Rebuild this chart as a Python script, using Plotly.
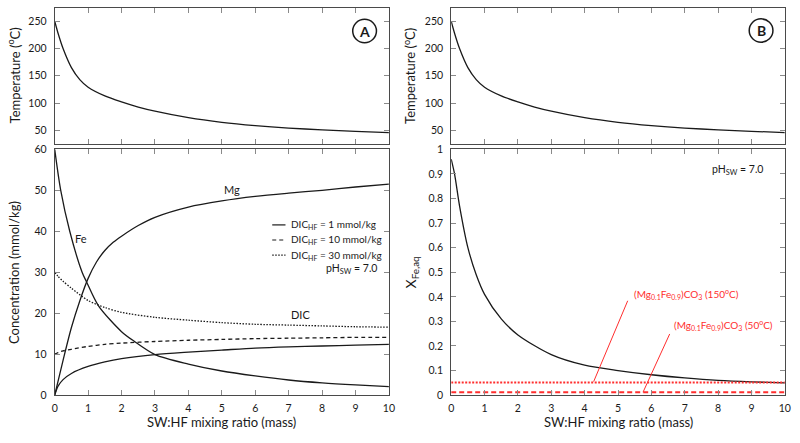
import plotly.graph_objects as go

# ---------------- data ----------------
ratio_T = [0, 0.1, 0.25, 0.5, 0.75, 1, 1.5, 2, 2.5, 3, 4, 5, 6, 7, 8, 9, 10]
temp_C = [250, 228, 200, 165, 143, 129, 113, 102, 92.5, 85, 73, 64.5, 58.5, 54, 50.8, 48, 45.8]

ratio_fe = [0, 0.18, 0.45, 0.82, 0.95, 1.31, 2, 2.37, 3, 4, 5, 6, 7, 8, 9, 10]
fe_conc = [60, 50, 40, 30, 27.7, 21.8, 15.5, 13.2, 9.9, 7.6, 5.9, 4.7, 3.7, 3.0, 2.5, 2.1]

ratio_mg = [0, 0.25, 0.5, 0.75, 1, 1.25, 1.5, 1.75, 2, 2.5, 3, 4, 5, 6, 7, 8, 9, 10]
mg_conc = [0, 8.5, 16.5, 23, 28.5, 32.5, 35.3, 37.3, 38.8, 41.4, 43.4, 45.9, 47.4, 48.5, 49.3, 50.0, 50.8, 51.5]

ratio_dic = [0, 0.1, 0.25, 0.5, 1, 1.5, 2, 3, 4, 5, 6, 7, 8, 9, 10]
dic_1 = [0, 2.2, 3.8, 5.3, 7.0, 8.1, 8.9, 9.9, 10.5, 11.0, 11.5, 11.8, 12.0, 12.2, 12.4]
dic_10 = [10.0, 10.4, 10.8, 11.2, 11.9, 12.4, 12.7, 13.1, 13.4, 13.6, 13.8, 13.9, 14.0, 14.1, 14.1]
dic_30 = [30.0, 29.0, 27.8, 26.1, 23.1, 21.4, 20.2, 19.0, 18.3, 17.7, 17.3, 17.1, 16.9, 16.7, 16.6]

ratio_x = [0, 0.1, 0.25, 0.5, 0.75, 1, 1.5, 2, 3, 4, 5, 6, 7, 8, 9, 10]
x_fe_aq = [0.96, 0.90, 0.77, 0.60, 0.49, 0.41, 0.31, 0.245, 0.165, 0.122, 0.100, 0.083, 0.070, 0.060, 0.054, 0.050]

sid_150 = 0.052
sid_50 = 0.012
x_range = [0, 10]

x_ticks = list(range(0, 11))
t_ticks = [50, 100, 150, 200, 250]
c_ticks = [0, 10, 20, 30, 40, 50, 60]
xfe_ticks = [0, 0.1, 0.2, 0.3, 0.4, 0.5, 0.6, 0.7, 0.8, 0.9, 1]
xfe_labels = ["0", "0.1", "0.2", "0.3", "0.4", "0.5", "0.6", "0.7", "0.8", "0.9", "1"]

legend_labels = ["DIC<sub>HF</sub> = 1 mmol/kg", "DIC<sub>HF</sub> = 10 mmol/kg", "DIC<sub>HF</sub> = 30 mmol/kg"]
dic_dashes = ["solid", "4px,3px", "1.5px,1.5px"]

# callouts (data coords): (head x, head y, tail x, tail y, text x, text y)
call_150 = (4.27, 0.055, 5.31, 0.39, 5.42, 0.413)
call_50 = (5.75, 0.012, 6.57, 0.255, 6.62, 0.285)

# ---------------- figure ----------------
FONT = "Lato"
BLACK = "#1a1a1a"
RED = "#ff2e2e"

fig = go.Figure()

def line_trace(x, y, xa, ya, dash="solid", color=BLACK, width=1.3):
    return go.Scatter(x=x, y=y, xaxis=xa, yaxis=ya, mode="lines",
                      line=dict(color=color, width=width, dash=dash, shape="spline", smoothing=0.8),
                      showlegend=False, hoverinfo="skip")

fig.add_trace(line_trace(ratio_T, temp_C, "x", "y"))
fig.add_trace(line_trace(ratio_T, temp_C, "x3", "y3"))

fig.add_trace(line_trace(ratio_fe, fe_conc, "x2", "y2"))
fig.add_trace(line_trace(ratio_mg, mg_conc, "x2", "y2"))
for series, dash in zip([dic_1, dic_10, dic_30], dic_dashes):
    fig.add_trace(line_trace(ratio_dic, series, "x2", "y2", dash))

fig.add_trace(line_trace(ratio_x, x_fe_aq, "x4", "y4"))
fig.add_trace(go.Scatter(x=x_range, y=[sid_150, sid_150], xaxis="x4", yaxis="y4", mode="lines",
                         line=dict(color=RED, width=2, dash="2px,1.5px"), showlegend=False, hoverinfo="skip"))
fig.add_trace(go.Scatter(x=x_range, y=[sid_50, sid_50], xaxis="x4", yaxis="y4", mode="lines",
                         line=dict(color=RED, width=2, dash="5px,3px"), showlegend=False, hoverinfo="skip"))

W, H = 800, 443
def px_x(p): return p / W
def px_y(p): return 1 - p / H

left_dom = [px_x(52.3), px_x(390.3)]
right_dom = [px_x(453.3), px_x(790.7)]
top_dom = [px_y(141.7), px_y(1.7)]
bot_dom = [px_y(400.0), px_y(147.3)]

axis_common = dict(showline=True, linecolor="#4a4a4a", linewidth=1, mirror="ticks",
                   ticks="inside", ticklen=5, tickcolor="#8a8a8a", tickwidth=1,
                   showgrid=False, zeroline=False,
                   tickfont=dict(family=FONT, size=10.5, color=BLACK))

fig.update_layout(
    width=W, height=H, margin=dict(l=0, r=0, t=0, b=0),
    paper_bgcolor="white", plot_bgcolor="white",
    font=dict(family=FONT, color=BLACK), showlegend=False,
    xaxis=dict(domain=left_dom, anchor="y", range=x_range, tickvals=x_ticks, showticklabels=False, **axis_common),
    yaxis=dict(domain=top_dom, anchor="x", range=[25, 275], tickvals=t_ticks, ticklabelstandoff=5, **axis_common),
    xaxis2=dict(domain=left_dom, anchor="y2", range=x_range, tickvals=x_ticks, ticklabelstandoff=3, **axis_common),
    yaxis2=dict(domain=bot_dom, anchor="x2", range=[0, 60], tickvals=c_ticks, ticklabelstandoff=5, **axis_common),
    xaxis3=dict(domain=right_dom, anchor="y3", range=x_range, tickvals=x_ticks, showticklabels=False, **axis_common),
    yaxis3=dict(domain=top_dom, anchor="x3", range=[25, 275], tickvals=t_ticks, ticklabelstandoff=5, **axis_common),
    xaxis4=dict(domain=right_dom, anchor="y4", range=x_range, tickvals=x_ticks, ticklabelstandoff=3, **axis_common),
    yaxis4=dict(domain=bot_dom, anchor="x4", range=[0, 1], tickvals=xfe_ticks, ticktext=xfe_labels,
                ticklabelstandoff=5, **axis_common),
)

ann = []
def title_ann(text, x, y, angle=0, size=13):
    ann.append(dict(text=text, x=px_x(x), y=px_y(y), xref="paper", yref="paper", showarrow=False,
                    textangle=angle, font=dict(family=FONT, size=size, color=BLACK),
                    xanchor="center", yanchor="middle"))

title_ann("Temperature (<sup>o</sup>C)", 11, 71.5, -90)
title_ann("Temperature (<sup>o</sup>C)", 411, 71.5, -90)
title_ann("Concentration (mmol/kg)", 11, 273.5, -90)
title_ann("X<sub>Fe,aq</sub>", 413, 273.5, -90, 14)
title_ann("SW:HF mixing ratio (mass)", 221.3, 427.5)
title_ann("SW:HF mixing ratio (mass)", 622, 427.5)

# circle labels
for letter, cx, cy in [("A", 365.7, 25.7), ("B", 766.7, 25.2)]:
    fig.add_shape(type="circle", xref="paper", yref="paper",
                  x0=px_x(cx - 12), x1=px_x(cx + 12), y0=px_y(cy + 12), y1=px_y(cy - 12),
                  line=dict(color=BLACK, width=1.5))
    ann.append(dict(text="<b>%s</b>" % letter, x=px_x(cx), y=px_y(cy), xref="paper", yref="paper",
                    showarrow=False, font=dict(family=FONT, size=14, color=BLACK),
                    xanchor="center", yanchor="middle"))

# legend (key lines + labels) for the DIC curves
for i, (label, dash) in enumerate(zip(legend_labels, dic_dashes)):
    ry = 225 + i * 15.5
    fig.add_shape(type="line", xref="paper", yref="paper",
                  x0=px_x(272.3), x1=px_x(285.7), y0=px_y(ry), y1=px_y(ry),
                  line=dict(color=BLACK, width=1.2, dash=dash))
    ann.append(dict(text=label, x=px_x(289.5), y=px_y(ry), xref="paper", yref="paper", showarrow=False,
                    font=dict(family=FONT, size=10, color=BLACK), xanchor="left", yanchor="middle"))

def data_text(text, x, y, xr, yr, size=11, xanchor="center", color=BLACK):
    ann.append(dict(text=text, x=x, y=y, xref=xr, yref=yr, showarrow=False,
                    font=dict(family=FONT, size=size, color=color), xanchor=xanchor, yanchor="middle"))

data_text("Mg", 5.3, 50.2, "x2", "y2")
data_text("Fe", 0.8, 38.2, "x2", "y2")
data_text("DIC", 7.36, 19.6, "x2", "y2")
data_text("pH<sub>SW</sub> = 7.0", 9.7, 30.7, "x2", "y2", size=10.5, xanchor="right")
data_text("pH<sub>SW</sub> = 7.0", 9.4, 0.915, "x4", "y4", size=10.5, xanchor="right")

for (hx, hy, tx, ty, lx, ly), label in [(call_150, "(Mg<sub>0.1</sub>Fe<sub>0.9</sub>)CO<sub>3</sub> (150<sup>o</sup>C)"),
                                         (call_50, "(Mg<sub>0.1</sub>Fe<sub>0.9</sub>)CO<sub>3</sub> (50<sup>o</sup>C)")]:
    ann.append(dict(text="", x=hx, y=hy, ax=tx, ay=ty, xref="x4", yref="y4", axref="x4", ayref="y4",
                    showarrow=True, arrowhead=0, arrowwidth=1, arrowcolor=RED, standoff=0, startstandoff=0))
    data_text(label, lx, ly, "x4", "y4", size=10, xanchor="left", color=RED)

fig.update_layout(annotations=ann)
fig.write_html("out.html")
